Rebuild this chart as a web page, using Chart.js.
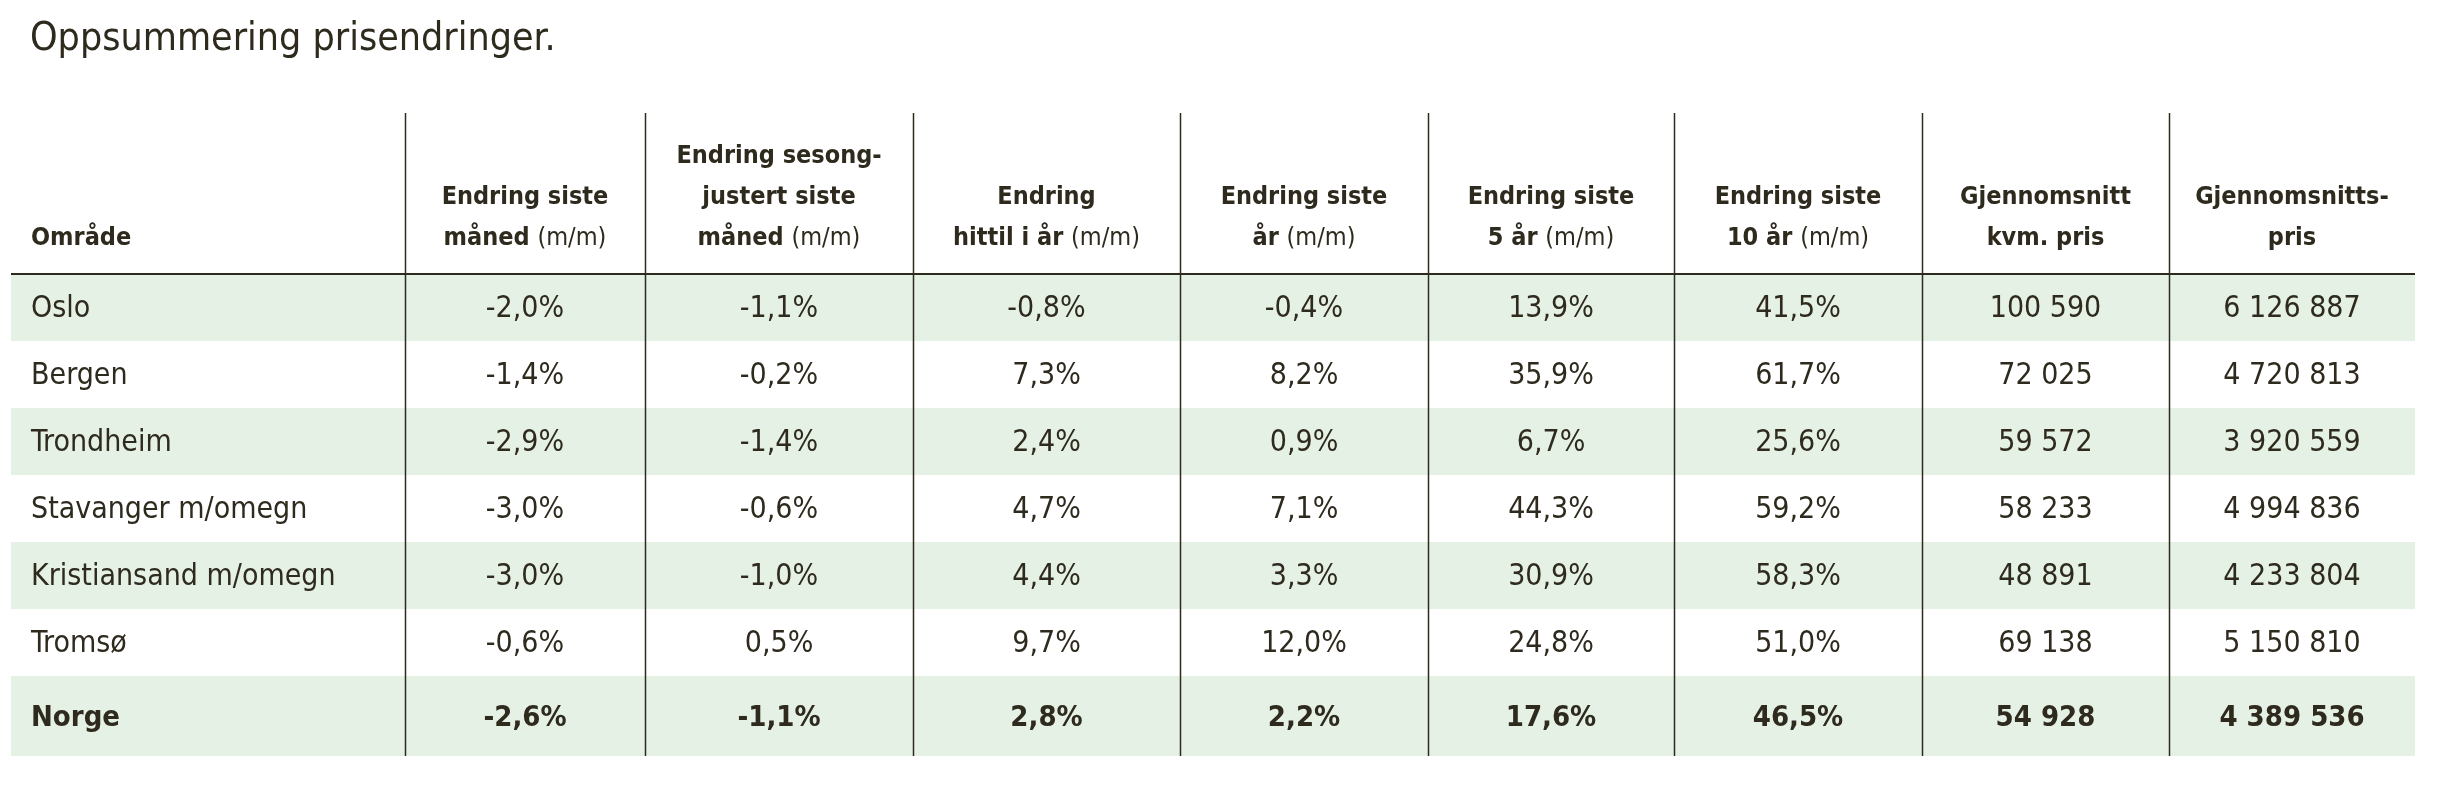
<!DOCTYPE html>
<html><head><meta charset="utf-8">
<script src="https://cdn.jsdelivr.net/npm/chart.js@4"></script>
<style>html,body{margin:0;background:#fff}#c{display:block}</style>
</head><body>
<canvas id="c" width="2442" height="790"></canvas>
<script>
const title = 'Oppsummering prisendringer.';
const headers = [
  ['Område'],
  ['Endring siste', 'måned (m/m)'],
  ['Endring sesong-', 'justert siste', 'måned (m/m)'],
  ['Endring', 'hittil i år (m/m)'],
  ['Endring siste', 'år (m/m)'],
  ['Endring siste', '5 år (m/m)'],
  ['Endring siste', '10 år (m/m)'],
  ['Gjennomsnitt', 'kvm. pris'],
  ['Gjennomsnitts-', 'pris']
];
const areas = ['Oslo', 'Bergen', 'Trondheim', 'Stavanger m/omegn', 'Kristiansand m/omegn', 'Tromsø', 'Norge'];
const changeMonth = ['-2,0%', '-1,4%', '-2,9%', '-3,0%', '-3,0%', '-0,6%', '-2,6%'];
const changeSeasonal = ['-1,1%', '-0,2%', '-1,4%', '-0,6%', '-1,0%', '0,5%', '-1,1%'];
const changeYtd = ['-0,8%', '7,3%', '2,4%', '4,7%', '4,4%', '9,7%', '2,8%'];
const changeYear = ['-0,4%', '8,2%', '0,9%', '7,1%', '3,3%', '12,0%', '2,2%'];
const change5y = ['13,9%', '35,9%', '6,7%', '44,3%', '30,9%', '24,8%', '17,6%'];
const change10y = ['41,5%', '61,7%', '25,6%', '59,2%', '58,3%', '51,0%', '46,5%'];
const sqmPrice = ['100 590', '72 025', '59 572', '58 233', '48 891', '69 138', '54 928'];
const avgPrice = ['6 126 887', '4 720 813', '3 920 559', '4 994 836', '4 233 804', '5 150 810', '4 389 536'];
const columns = [areas, changeMonth, changeSeasonal, changeYtd, changeYear, change5y, change10y, sqmPrice, avgPrice];

// layout (pixel units on the linear scales)
const colEdges = [11, 405, 645, 913, 1180, 1428, 1674, 1922, 2169, 2415];
const rowEdges = [274, 341, 408, 475, 542, 609, 676, 756];
const FONT = '"DejaVu Sans Condensed", "Liberation Sans Narrow", Roboto, sans-serif';
const INK = '#2e2a1e';
const BAND = '#e6f1e5';

// draws a header line, with "(m/m)" set in regular weight
function headerLine(ctx, t, cx, cy, align) {
  const m = t.indexOf('(m/m)');
  const bold = 'bold 25px ' + FONT, reg = '25px ' + FONT;
  if (m < 0) { ctx.font = bold; ctx.textAlign = align; ctx.fillText(t, cx, cy); return; }
  const a = t.slice(0, m), b = '(m/m)';
  ctx.font = bold; const wa = ctx.measureText(a).width;
  ctx.font = reg; const wb = ctx.measureText(b).width;
  const start = cx - (wa + wb) / 2;
  ctx.textAlign = 'left';
  ctx.font = bold; ctx.fillText(a, start, cy);
  ctx.font = reg; ctx.fillText(b, start + wa, cy);
}

const tablePlugin = {
  id: 'table',
  afterDraw(chart) {
    const { ctx, scales: { x, y } } = chart;
    const X = v => x.getPixelForValue(v), Y = v => y.getPixelForValue(v);
    ctx.save();
    ctx.fillStyle = BAND;
    [0, 2, 4, 6].forEach(r => ctx.fillRect(X(colEdges[0]), Y(rowEdges[r]), X(colEdges[9]) - X(colEdges[0]), Y(rowEdges[r + 1]) - Y(rowEdges[r])));
    ctx.fillStyle = INK;
    ctx.font = '39px ' + FONT;
    ctx.textBaseline = 'middle';
    ctx.textAlign = 'left';
    ctx.fillText(title, X(30), Y(40));
    headers.forEach((lines, c) => {
      const cx = c === 0 ? X(31) : (X(colEdges[c]) + X(colEdges[c + 1])) / 2;
      lines.forEach((t, i) => headerLine(ctx, t, cx, Y(238 - (lines.length - 1 - i) * 41), c === 0 ? 'left' : 'center'));
    });
    columns.forEach((col, c) => {
      const cx = c === 0 ? X(31) : (X(colEdges[c]) + X(colEdges[c + 1])) / 2;
      ctx.textAlign = c === 0 ? 'left' : 'center';
      col.forEach((t, r) => {
        const last = r === col.length - 1;
        ctx.font = (last ? 'bold 29px ' : '30px ') + FONT;
        ctx.fillText(t, cx, Y((rowEdges[r] + rowEdges[r + 1]) / 2 + 2));
      });
    });
    ctx.strokeStyle = INK;
    ctx.lineWidth = 1.5;
    for (let c = 1; c < 9; c++) {
      ctx.beginPath();
      ctx.moveTo(X(colEdges[c]) + 0.5, Y(113));
      ctx.lineTo(X(colEdges[c]) + 0.5, Y(rowEdges[7]));
      ctx.stroke();
    }
    ctx.lineWidth = 2;
    ctx.beginPath();
    ctx.moveTo(X(colEdges[0]), Y(rowEdges[0]));
    ctx.lineTo(X(colEdges[9]), Y(rowEdges[0]));
    ctx.stroke();
    ctx.restore();
  }
};

new Chart(document.getElementById('c'), {
  type: 'scatter',
  data: { datasets: [{ data: [] }] },
  options: {
    responsive: false, animation: false, devicePixelRatio: 1,
    layout: { padding: 0 },
    plugins: { legend: { display: false }, tooltip: { enabled: false } },
    scales: {
      x: { type: 'linear', min: 0, max: 2442, display: false },
      y: { type: 'linear', min: 0, max: 790, reverse: true, display: false }
    }
  },
  plugins: [tablePlugin]
});
</script>
</body></html>
